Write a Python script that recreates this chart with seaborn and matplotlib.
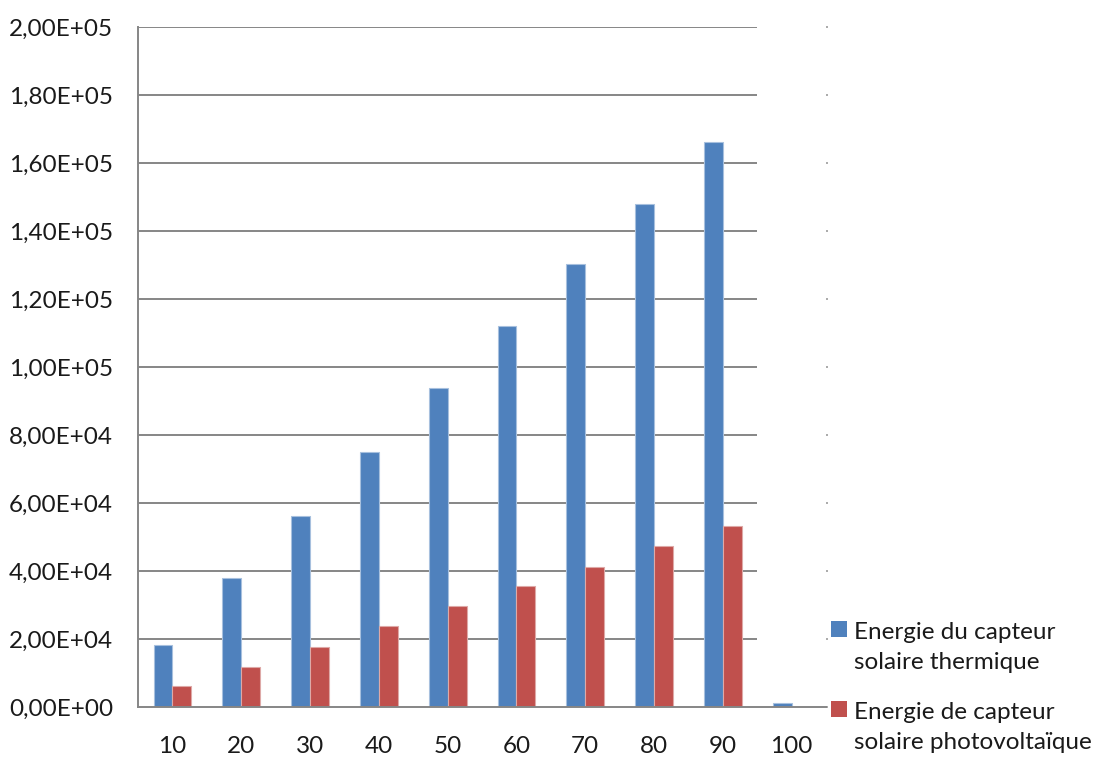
import matplotlib
matplotlib.use("Agg")
import matplotlib.pyplot as plt
import matplotlib.ticker as mticker
from matplotlib.patches import Patch, Rectangle
from matplotlib.legend_handler import HandlerBase
import seaborn as sns
import pandas as pd

# Surface (m²) categories and energy produced by each collector type
categories = ["10", "20", "30", "40", "50", "60", "70", "80", "90", "100"]
thermique = [18200, 37900, 56200, 75000, 93800, 112000, 130300, 147900, 166100, 1200]
photovoltaique = [6200, 11700, 17800, 23800, 29700, 35600, 41200, 47400, 53300, 0]
series_names = ["Energie du capteur\nsolaire thermique",
                "Energie de capteur\nsolaire photovoltaïque"]
colors = ["#4F81BD", "#C0504D"]
y_ticks = list(range(0, 200001, 20000))

df = pd.DataFrame({
    "categorie": categories * 2,
    "energie": thermique + photovoltaique,
    "serie": [series_names[0]] * len(categories) + [series_names[1]] * len(categories),
})

FONT_SIZE = 17.5
LINE_SPACING = 1.5

sns.set_style("white")
plt.rcParams["font.family"] = ["Lato", "DejaVu Sans"]

fig = plt.figure(figsize=(10.99, 7.6), dpi=100)
ax = fig.add_axes([0.1256, 0.0697, 0.6260, 0.8948])

sns.barplot(data=df, x="categorie", y="energie", hue="serie", order=categories,
            hue_order=series_names, palette=colors, width=0.55, ax=ax,
            saturation=1, errorbar=None, legend=False, linewidth=0.8)

# lighter outline around each bar
edge_map = {colors[0].lower(): "#A7C0DE", colors[1].lower(): "#DEA9A7"}
for p in ax.patches:
    fc = matplotlib.colors.to_hex(p.get_facecolor()).lower()
    p.set_edgecolor(edge_map.get(fc, fc))

grid_color = "#868686"
text_color = "#1a1a1a"
ax.set_xlim(-0.5, len(categories) - 0.5)
ax.set_ylim(0, 200000)
ax.set_yticks(y_ticks)
ax.yaxis.set_major_formatter(mticker.FuncFormatter(
    lambda v, _: f"{v:.2E}".replace(".", ",")))

# horizontal gridlines (stop at the boundary before the last category)
ax.hlines(y_ticks[1:], -0.5, len(categories) - 1.5, colors=grid_color,
          linewidth=1.4, zorder=0)

ax.set_xlabel("")
ax.set_ylabel("")
for s in ["top", "right"]:
    ax.spines[s].set_visible(False)
for s in ["left", "bottom"]:
    ax.spines[s].set_color(grid_color)
    ax.spines[s].set_linewidth(1.4)

# x ticks between categories, labels at centers
ax.set_xticks([i + 0.5 for i in range(-1, len(categories))], minor=True)
ax.tick_params(axis="x", which="major", length=0, pad=21, labelsize=FONT_SIZE,
               labelcolor=text_color)
ax.tick_params(axis="x", which="minor", length=7, width=1.4, color=grid_color,
               direction="out")
ax.tick_params(axis="y", which="major", length=7, width=1.4, color=grid_color,
               direction="out", labelsize=FONT_SIZE, labelcolor=text_color, pad=11,
               right=True)
# tiny marks on the right edge
for line in ax.yaxis.get_majorticklines()[1::2]:
    line.set_markersize(1.5)
    line.set_markeredgecolor("#AAAAAA")


class FirstLineSquare(HandlerBase):
    """Legend key drawn as a square aligned with the first line of a two-line label."""

    def create_artists(self, legend, orig_handle, xdescent, ydescent, width,
                       height, fontsize, trans):
        size = 0.66 * fontsize
        lift = LINE_SPACING * fontsize / 2
        yc = -ydescent + height / 2 + lift
        rect = Rectangle((-xdescent + width - size, yc - size / 2), size, size,
                         facecolor=orig_handle.get_facecolor(), edgecolor="none",
                         transform=trans)
        return [rect]


handles = [Patch(facecolor=c, edgecolor="none") for c in colors]
leg = ax.legend(handles, series_names, loc="upper left",
                bbox_to_anchor=(0.756, 0.181), bbox_transform=fig.transFigure,
                frameon=False, fontsize=FONT_SIZE, handlelength=0.66,
                handleheight=0.66, handletextpad=0.3, labelspacing=1.2,
                borderpad=0, borderaxespad=0,
                handler_map={Patch: FirstLineSquare()})
for t in leg.get_texts():
    t.set_linespacing(LINE_SPACING)
    t.set_color(text_color)

fig.savefig("out.png", dpi=100)
